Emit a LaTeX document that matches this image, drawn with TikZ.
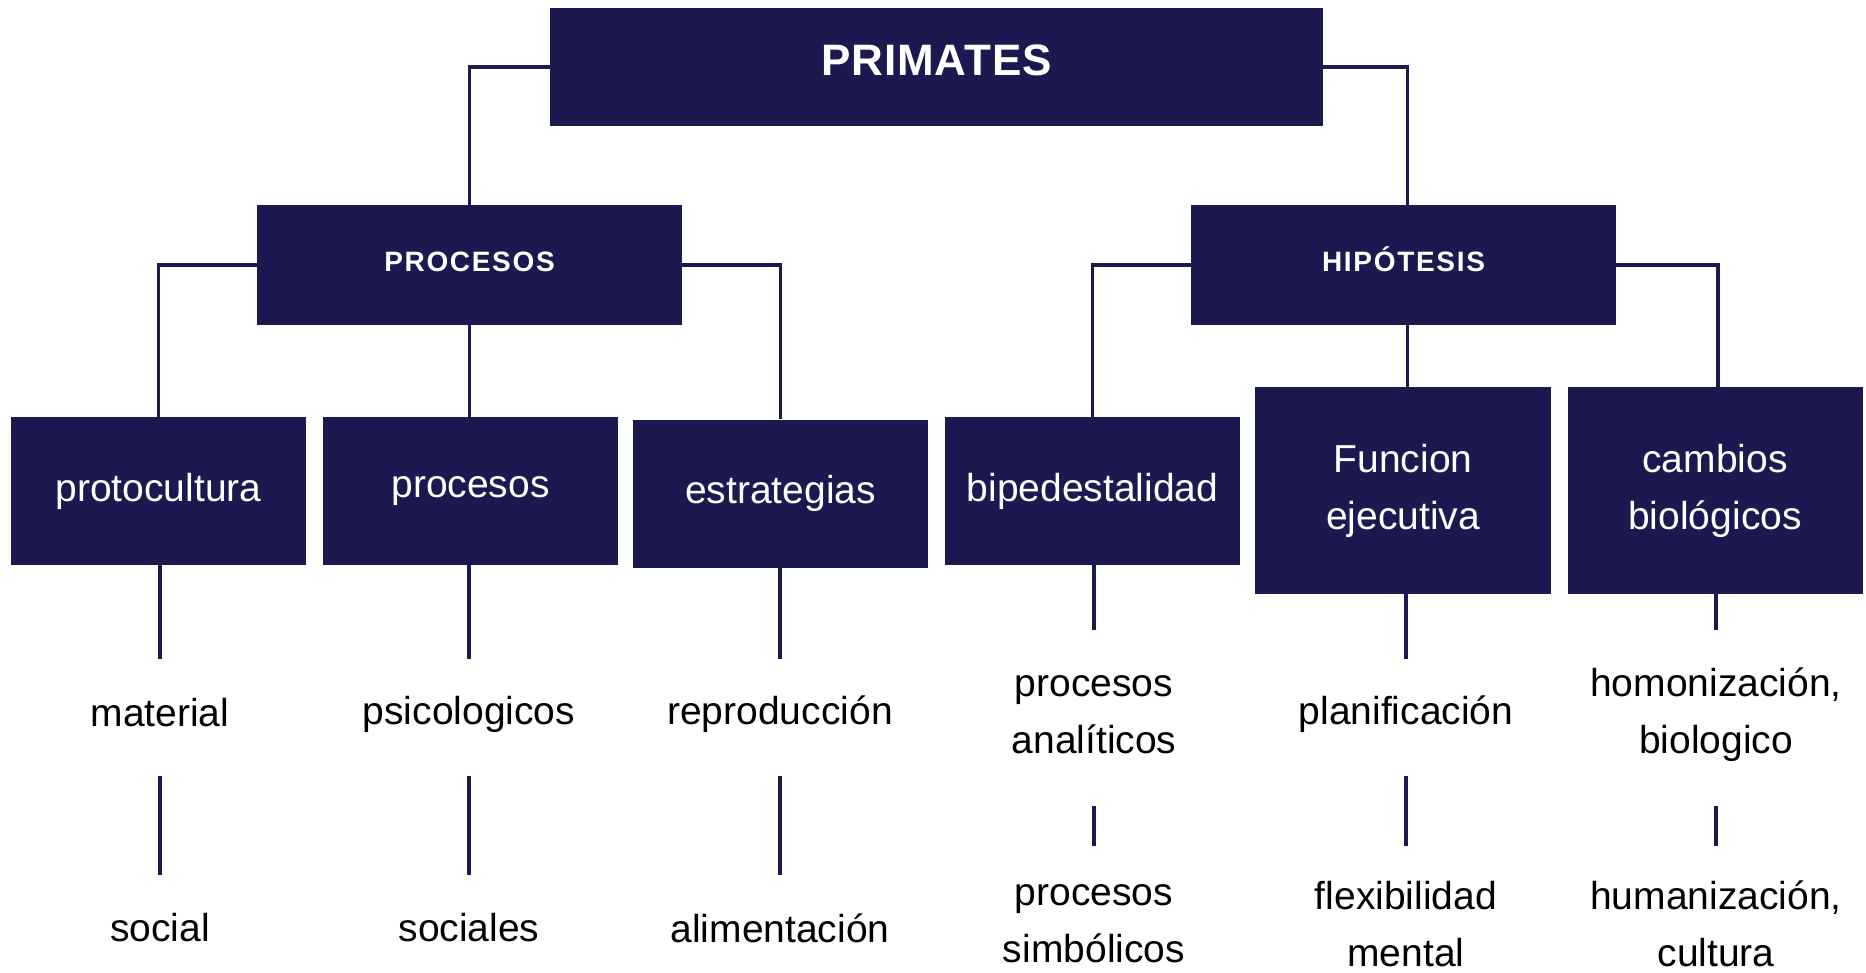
\documentclass[tikz,border=0pt]{standalone}
\usepackage{fontspec}
\setmainfont{Liberation Sans}
\definecolor{navy}{RGB}{28,24,80}
\begin{document}
\begin{tikzpicture}[x=0.5pt,y=-0.5pt,
  box/.style={fill=navy, text=white, inner sep=0pt, align=center, font=\fontsize{19.5}{28.5}\selectfont},
  lbl/.style={text=black, align=center, inner sep=0pt, font=\fontsize{19.5}{28.5}\selectfont},
  head/.style={fill=navy, text=white, inner sep=0pt, align=center, text height=10pt, text depth=4pt, font=\fontsize{14}{17}\selectfont\bfseries\addfontfeature{LetterSpace=6}},
  conn/.style={draw=navy, line width=1.7pt}]
\useasboundingbox (0,0) rectangle (1866,973);
\fill[white] (0,0) rectangle (1866,973);

% boxes
\node[box, minimum width=386.5pt, minimum height=59pt, font=\fontsize{22}{26}\selectfont\bfseries\addfontfeature{LetterSpace=2}] (prim) at (936.5,67) {\raisebox{7pt}{PRIMATES}};
\node[head, minimum width=212.5pt, minimum height=60pt] (proc) at (469.5,265) {PROCESOS};
\node[head, minimum width=212.5pt, minimum height=60pt] (hip) at (1403.5,265) {HIPÓTESIS};

\node[box, minimum width=147.5pt, minimum height=74pt] (proto) at (158.5,491) {protocultura};
\node[box, minimum width=147.5pt, minimum height=74pt] (procb) at (470.5,491) {procesos};
\node[box, minimum width=147.5pt, minimum height=74pt] (estr) at (780.5,493.5) {estrategias};
\node[box, minimum width=147.5pt, minimum height=74pt] (biped) at (1092.5,491) {bipedestalidad};
\node[box, minimum width=148pt, minimum height=103.5pt] (func) at (1403,490.5) {Funcion\\ejecutiva};
\node[box, minimum width=147.5pt, minimum height=103.5pt] (camb) at (1715,490.5) {cambios\\biológicos};

% lower labels
\node[lbl] (mat) at (160,713) {material};
\node[lbl] (soc) at (160,928) {social};
\node[lbl] (psi) at (469,714) {psicologicos};
\node[lbl] (socs) at (469,928) {sociales};
\node[lbl] (rep) at (780,714) {reproducción};
\node[lbl] (ali) at (780,928) {alimentación};
\node[lbl] (pan) at (1094,714.5) {procesos\\analíticos};
\node[lbl] (psim) at (1094,924) {procesos\\simbólicos};
\node[lbl] (plan) at (1406,714) {planificación};
\node[lbl] (flex) at (1406,924) {flexibilidad\\mental};
\node[lbl] (homo) at (1716,714.5) {homonización,\\biologico};
\node[lbl] (huma) at (1716,924) {humanización,\\cultura};

% top connectors
\draw[conn] (prim.west) -| (proc.north);
\draw[conn] (prim.east) -| ([xshift=2pt]hip.north);
\draw[conn] (proc.west) -| (proto.north);
\draw[conn] (proc.east) -| (estr.north);
\draw[conn] (proc.south) -- (proc.south |- procb.north);
\draw[conn] (hip.west) -| (biped.north);
\draw[conn] (hip.east) -| ([xshift=1.5pt]camb.north);
\draw[conn] ([xshift=2pt]hip.south) -- ([xshift=2pt]hip.south |- func.north);

% coordinates for free ends
\coordinate (e1) at (160,659);
\coordinate (e2) at (469,659);
\coordinate (e3) at (780,659);
\coordinate (e4) at (1094,630);
\coordinate (e5) at (1406,659);
\coordinate (e6) at (1716,630);
\draw[conn] (proto.south -| e1) -- (e1);
\draw[conn] (procb.south -| e2) -- (e2);
\draw[conn] (estr.south -| e3) -- (e3);
\draw[conn] (biped.south -| e4) -- (e4);
\draw[conn] (func.south -| e5) -- (e5);
\draw[conn] (camb.south -| e6) -- (e6);

\coordinate (m1a) at (160,776); \coordinate (m1b) at (160,875);
\coordinate (m2a) at (469,776); \coordinate (m2b) at (469,875);
\coordinate (m3a) at (780,776); \coordinate (m3b) at (780,875);
\coordinate (m4a) at (1094,806); \coordinate (m4b) at (1094,846);
\coordinate (m5a) at (1406,776); \coordinate (m5b) at (1406,846);
\coordinate (m6a) at (1716,806); \coordinate (m6b) at (1716,846);
\draw[conn] (m1a) -- (m1b);
\draw[conn] (m2a) -- (m2b);
\draw[conn] (m3a) -- (m3b);
\draw[conn] (m4a) -- (m4b);
\draw[conn] (m5a) -- (m5b);
\draw[conn] (m6a) -- (m6b);
\end{tikzpicture}
\end{document}
